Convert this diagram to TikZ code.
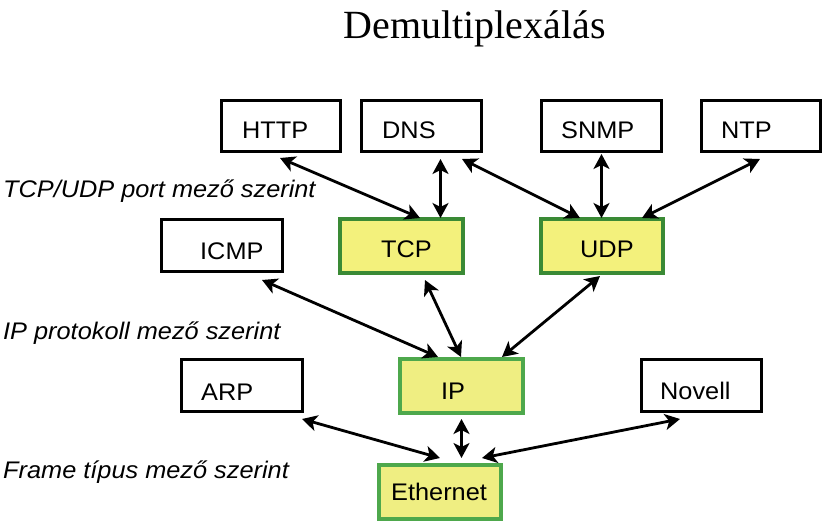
\documentclass[tikz,border=0pt]{standalone}
\usepackage{fontspec}
\setmainfont{Liberation Serif}
\setsansfont{Liberation Sans}[FakeStretch=1.055]
\usetikzlibrary{arrows.meta}
\definecolor{boxyellow}{HTML}{F3F17C}
\definecolor{ipyellow}{HTML}{EFEE82}
\definecolor{darkgrn}{HTML}{3A8A35}
\definecolor{litegrn}{HTML}{4EA84C}
\tikzset{
  plainbox/.style={draw=black, line width=3pt, rectangle, inner sep=0pt, minimum height=51pt},
  greenbox/.style={draw=darkgrn, fill=boxyellow, line width=4pt, rectangle, inner sep=0pt, minimum height=54pt},
  lightbox/.style={draw=litegrn, fill=ipyellow, line width=4pt, rectangle, inner sep=0pt, minimum height=54pt},
  boxtext/.style={anchor=base west, inner sep=0pt, font=\sffamily\fontsize{24}{28}\selectfont},
  layertext/.style={anchor=base west, inner sep=0pt, font=\sffamily\itshape\fontsize{24}{28}\selectfont},
  biarrow/.style={line width=2.8pt, {Stealth[length=15pt,width=16pt,inset=4pt]}-{Stealth[length=15pt,width=16pt,inset=4pt]}}
}
\begin{document}
\begin{tikzpicture}[x=1pt,y=-1pt]
\useasboundingbox (0,0) rectangle (824,521);
% title
\node[anchor=base, inner sep=0pt, font=\fontsize{40}{46}\selectfont] (title) at (474.5,39) {Demultiplexálás};
% top row
\node[plainbox, minimum width=119pt] (http) at (281,126) {};
\node[plainbox, minimum width=120pt] (dns) at (421.5,126) {};
\node[plainbox, minimum width=120pt] (snmp) at (601.5,126) {};
\node[plainbox, minimum width=119pt] (ntp) at (761,126) {};
% second row
\node[plainbox, minimum width=121pt, minimum height=52pt] (icmp) at (222,245.5) {};
\node[greenbox, minimum width=123pt] (tcp) at (401.5,246) {};
\node[greenbox, minimum width=122pt] (udp) at (602,246) {};
% third row
\node[plainbox, minimum width=121pt, minimum height=52pt] (arp) at (242,385.5) {};
\node[lightbox, minimum width=123pt] (ip) at (461.5,386) {};
\node[plainbox, minimum width=120pt, minimum height=52pt] (novell) at (701.5,385.5) {};
% bottom
\node[lightbox, minimum width=122pt] (eth) at (440,492) {};
% box texts
\node[boxtext] (httpt) at (242,139) {HTTP};
\node[boxtext] (dnst) at (382,139) {DNS};
\node[boxtext] (snmpt) at (561,139) {SNMP};
\node[boxtext] (ntpt) at (721,139) {NTP};
\node[boxtext] (icmpt) at (200,260) {ICMP};
\node[boxtext] (tcpt) at (381,258) {TCP};
\node[boxtext] (udpt) at (580,258) {UDP};
\node[boxtext] (arpt) at (201,400) {ARP};
\node[boxtext] (ipt) at (441,399) {IP};
\node[boxtext] (novellt) at (660,399) {Novell};
\node[boxtext] (etht) at (391,500) {Ethernet};
% layer labels
\node[layertext] (l1) at (3,198) {TCP/UDP port mező szerint};
\node[layertext] (l2) at (3,339) {IP protokoll mező szerint};
\node[layertext] (l3) at (3,478) {Frame típus mező szerint};
% connectors
\draw[biarrow] ([shift={(-1,5)}]http.south) -- ([shift={(18.5,1)}]tcp.north);
\draw[biarrow] ([shift={(19,6)}]dns.south) -- ([shift={(39,1)}]tcp.north);
\draw[biarrow] ([shift={(40.5,6)}]dns.south) -- ([shift={(-22,1)}]udp.north);
\draw[biarrow] ([shift={(0,1)}]snmp.south) -- ([shift={(-0.5,1)}]udp.north);
\draw[biarrow] ([shift={(-1,6)}]ntp.south) -- ([shift={(40,1)}]udp.north);
\draw[biarrow] ([shift={(40,7)}]icmp.south) -- ([shift={(-23.5,0)}]ip.north);
\draw[biarrow] ([shift={(23.5,5)}]tcp.south) -- ([shift={(-0.5,0)}]ip.north);
\draw[biarrow] ([shift={(-2,1)}]udp.south) -- ([shift={(40.5,0)}]ip.north);
\draw[biarrow] ([shift={(60,6)}]arp.south) -- ([shift={(0,-5)}]eth.north);
\draw[biarrow] ([shift={(0,4)}]ip.south) -- ([shift={(21.5,-5)}]eth.north);
\draw[biarrow] ([shift={(-21.5,6)}]novell.south) -- ([shift={(42,-5)}]eth.north);
\end{tikzpicture}
\end{document}
